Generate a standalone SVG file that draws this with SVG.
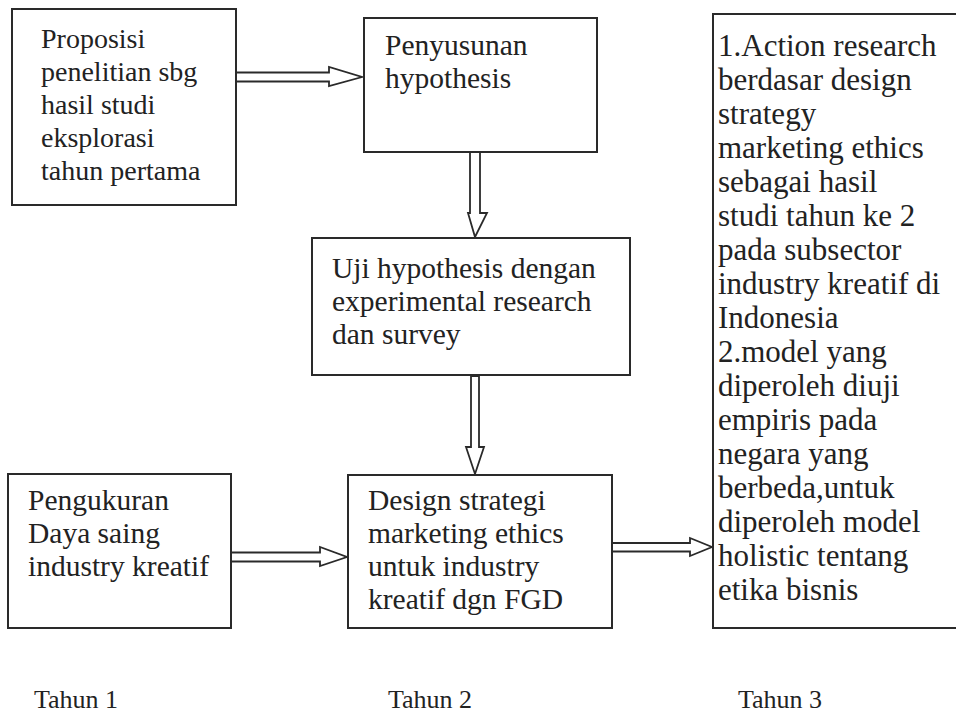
<svg xmlns="http://www.w3.org/2000/svg" width="956" height="716" viewBox="0 0 956 716">
<style>
.box{fill:#fff;stroke:#2a2a2a;stroke-width:2}
.t{font-family:"Liberation Serif","Times New Roman",serif;font-size:29.5px;fill:#222}
.t1{font-size:28px}
.t6{font-size:31px}
.lbl{font-family:"Liberation Serif","Times New Roman",serif;font-size:26px;fill:#222}
.arr{fill:#fff;stroke:#2a2a2a;stroke-width:1.8;stroke-linejoin:miter}
</style>
<rect width="956" height="716" fill="#fff"/>
<g id="connectors">
<polygon class="arr" points="236,72.5 329,72.5 329,67 362,77 329,86 329,81.5 236,81.5"/>
<polygon class="arr" points="470,148 480,148 480,213 487,213 475,237 468,213 470,213"/>
<polygon class="arr" points="471,376 479,376 479,447 484,447 475,474 466,447 471,447"/>
<polygon class="arr" points="231,552.5 320,552.5 320,547 347,557 320,566 320,561.5 231,561.5"/>
<polygon class="arr" points="612,543 690,543 690,538 712,547 690,556 690,551.5 612,551.5"/>
</g>
<g id="n1">
<rect class="box" x="12" y="9" width="224" height="196"/>
<text class="t t1" x="41" y="48">Proposisi</text>
<text class="t t1" x="41" y="81">penelitian sbg</text>
<text class="t t1" x="41" y="114">hasil studi</text>
<text class="t t1" x="41" y="147">eksplorasi</text>
<text class="t t1" x="41" y="180">tahun pertama</text>
</g>
<g id="n2">
<rect class="box" x="364" y="18" width="233" height="134"/>
<text class="t" x="385" y="55">Penyusunan</text>
<text class="t" x="385" y="88">hypothesis</text>
</g>
<g id="n3">
<rect class="box" x="312" y="238" width="318" height="137"/>
<text class="t" x="332" y="278">Uji hypothesis dengan</text>
<text class="t" x="332" y="311">experimental research</text>
<text class="t" x="332" y="344">dan survey</text>
</g>
<g id="n4">
<rect class="box" x="8" y="474" width="223" height="154"/>
<text class="t" x="28" y="510">Pengukuran</text>
<text class="t" x="28" y="543">Daya saing</text>
<text class="t" x="28" y="576">industry kreatif</text>
</g>
<g id="n5">
<rect class="box" x="348" y="475" width="264" height="153"/>
<text class="t" x="368" y="510">Design strategi</text>
<text class="t" x="368" y="543">marketing ethics</text>
<text class="t" x="368" y="576">untuk industry</text>
<text class="t" x="368" y="609">kreatif dgn FGD</text>
</g>
<g id="n6">
<rect class="box" x="713" y="14" width="260" height="614"/>
<text class="t t6" x="718" y="56">1.Action research</text>
<text class="t t6" x="718" y="90">berdasar design</text>
<text class="t t6" x="718" y="124">strategy</text>
<text class="t t6" x="718" y="158">marketing ethics</text>
<text class="t t6" x="718" y="192">sebagai hasil</text>
<text class="t t6" x="718" y="226">studi tahun ke 2</text>
<text class="t t6" x="718" y="260">pada subsector</text>
<text class="t t6" x="718" y="294">industry kreatif di</text>
<text class="t t6" x="718" y="328">Indonesia</text>
<text class="t t6" x="718" y="362">2.model yang</text>
<text class="t t6" x="718" y="396">diperoleh diuji</text>
<text class="t t6" x="718" y="430">empiris pada</text>
<text class="t t6" x="718" y="464">negara yang</text>
<text class="t t6" x="718" y="498">berbeda,untuk</text>
<text class="t t6" x="718" y="532">diperoleh model</text>
<text class="t t6" x="718" y="566">holistic tentang</text>
<text class="t t6" x="718" y="600">etika bisnis</text>
</g>
<g id="labels">
<text class="lbl" x="34" y="708">Tahun 1</text>
<text class="lbl" x="388" y="708">Tahun 2</text>
<text class="lbl" x="738" y="708">Tahun 3</text>
</g>
</svg>
